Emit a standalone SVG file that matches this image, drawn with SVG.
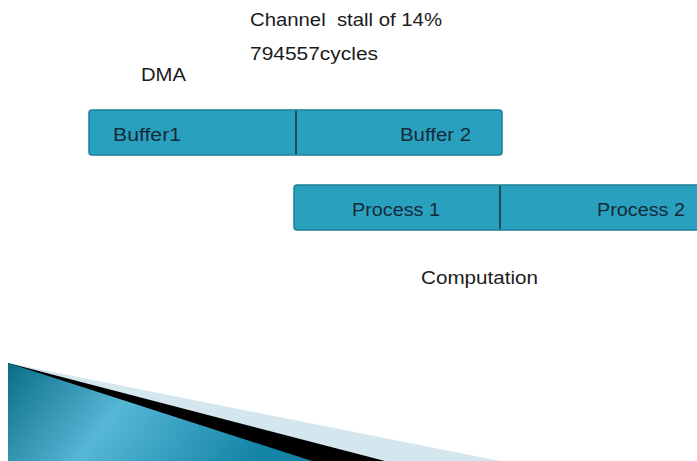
<svg xmlns="http://www.w3.org/2000/svg" width="697" height="461" viewBox="0 0 697 461">
  <style>
    .lbl { font-family: "Liberation Sans", Arial, sans-serif; font-size: 17.5px; fill: #1b1b1b; }
    .bar-txt { font-family: "Liberation Sans", Arial, sans-serif; font-size: 17.5px; fill: #142a3a; }
    .bar { fill: #2aa0bf; stroke: #1c7f98; stroke-width: 1.5; }
    .div { stroke: #14323a; stroke-width: 1.5; }
  </style>
  <defs>
    <linearGradient id="tealGrad" x1="0" y1="0" x2="1" y2="0.25">
      <stop offset="0" stop-color="#0a6d87"/>
      <stop offset="0.45" stop-color="#56b7d6"/>
      <stop offset="1" stop-color="#1383a6"/>
    </linearGradient>
  </defs>
  <rect width="697" height="461" fill="#ffffff"/>

  <g id="title">
    <text class="lbl" x="250" y="26" textLength="192" lengthAdjust="spacingAndGlyphs" xml:space="preserve">Channel  stall of 14%</text>
    <text class="lbl" x="250" y="60" textLength="128" lengthAdjust="spacingAndGlyphs">794557cycles</text>
  </g>
  <text class="lbl" x="141" y="81" textLength="45" lengthAdjust="spacingAndGlyphs">DMA</text>

  <g id="dma-bar">
    <rect class="bar" x="89" y="110" width="413" height="45" rx="3"/>
    <line class="div" x1="296" y1="111" x2="296" y2="154"/>
    <text class="bar-txt" x="113" y="141" textLength="68" lengthAdjust="spacingAndGlyphs">Buffer1</text>
    <text class="bar-txt" x="400" y="141" textLength="71" lengthAdjust="spacingAndGlyphs">Buffer 2</text>
  </g>

  <g id="compute-bar">
    <rect class="bar" x="294" y="185" width="410" height="45" rx="3"/>
    <line class="div" x1="500" y1="186" x2="500" y2="229"/>
    <text class="bar-txt" x="352" y="216" textLength="88" lengthAdjust="spacingAndGlyphs">Process 1</text>
    <text class="bar-txt" x="597" y="216" textLength="88" lengthAdjust="spacingAndGlyphs">Process 2</text>
  </g>

  <text class="lbl" x="421" y="284" textLength="117" lengthAdjust="spacingAndGlyphs">Computation</text>

  <!-- corner swoosh: pale band, black band, teal wedge -->
  <g id="swoosh">
    <polygon points="8,363 500,461 8,461" fill="#d4e7ee"/>
    <polygon points="8,363 385,461 8,461" fill="#000000"/>
    <polygon points="8,363 312,461 8,461" fill="url(#tealGrad)"/>
  </g>
</svg>
